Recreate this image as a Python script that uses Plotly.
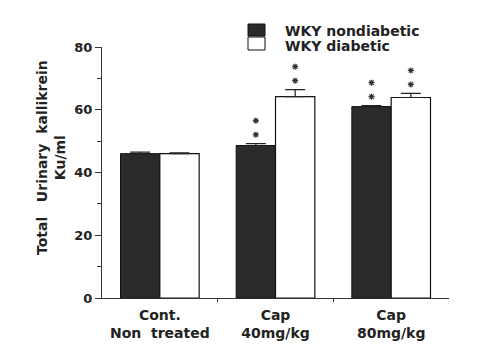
import plotly.graph_objects as go

categories = ["Cont.<br>Non  treated", "Cap<br>40mg/kg", "Cap<br>80mg/kg"]
series_names = ["WKY nondiabetic", "WKY diabetic"]
nondiabetic = [46.0, 48.6, 61.0]
nondiabetic_err = [0.5, 0.6, 0.3]
diabetic = [46.0, 64.2, 63.9]
diabetic_err = [0.3, 2.2, 1.3]
sig_nondiabetic = [0, 2, 2]  # number of significance asterisks
sig_diabetic = [0, 2, 2]
y_ticks = [0, 20, 40, 60, 80]
y_title_lines = ["Total   Urinary  kallikrein", "Ku/ml"]

xs = list(range(len(categories)))
dark = "#2b2b2b"
font_family = "DejaVu Sans, Arial, sans-serif"

OFF = 8  # default page body margin
W, H = 500 - OFF, 358 - OFF
L, R, T, B = 102 - OFF, 51, 47 - OFF, 60
PW, PH = W - L - R, H - T - B
Y_MAX = 80
unit_px = PH / Y_MAX


def px(xp):
    return (xp - OFF - L) / PW


def py(yp):
    return (H - B - (yp - OFF)) / PH


fig = go.Figure()
fig.add_trace(go.Bar(
    x=xs, y=nondiabetic, name=series_names[0],
    marker=dict(color=dark, line=dict(color="#111111", width=1)),
    error_y=dict(type="data", symmetric=False, array=nondiabetic_err,
                 arrayminus=[0] * 3, color="#222222", thickness=1.2, width=10),
    showlegend=False, hoverinfo="skip",
))
fig.add_trace(go.Bar(
    x=xs, y=diabetic, name=series_names[1],
    marker=dict(color="white", line=dict(color="#111111", width=1.2)),
    error_y=dict(type="data", symmetric=False, array=diabetic_err,
                 arrayminus=[0] * 3, color="#222222", thickness=1.2, width=10),
    showlegend=False, hoverinfo="skip",
))

bargap = 0.32
half = (1 - bargap) / 4
ax, ay = [], []
for i in xs:
    for off, vals, errs, sig in [(-half, nondiabetic, nondiabetic_err, sig_nondiabetic),
                                 (half, diabetic, diabetic_err, sig_diabetic)]:
        for k in range(sig[i]):
            ax.append(i + off)
            ay.append(vals[i] + errs[i] + (9 + 14 * k) / unit_px)
fig.add_trace(go.Scatter(
    x=ax, y=ay, mode="markers", showlegend=False, hoverinfo="skip",
    marker=dict(symbol="asterisk-open", size=5, color="#333", line=dict(color="#333", width=1.2)),
))

# manual legend
fig.add_shape(type="rect", xref="paper", yref="paper",
              x0=px(248), x1=px(265), y0=py(36), y1=py(24),
              fillcolor=dark, line=dict(color="#111", width=1))
fig.add_shape(type="rect", xref="paper", yref="paper",
              x0=px(248), x1=px(265), y0=py(50), y1=py(37),
              fillcolor="white", line=dict(color="#111", width=1))
for k, yy in enumerate([31, 46]):
    fig.add_annotation(xref="paper", yref="paper", x=px(283), y=py(yy),
                       text="<b>" + series_names[k] + "</b>", showarrow=False,
                       xanchor="left", yanchor="middle",
                       font=dict(size=14, color="#222", family=font_family))

# y-axis title
fig.add_annotation(xref="paper", yref="paper", x=px(51), y=py(158),
                   text="<b>" + "<br>".join(t.replace(" ", "&nbsp;") for t in y_title_lines) + "</b>",
                   showarrow=False, textangle=-90, xanchor="center", yanchor="middle",
                   font=dict(size=14, color="#222", family=font_family))

fig.update_layout(
    width=W, height=H,
    margin=dict(l=L, r=R, t=T, b=B),
    paper_bgcolor="white", plot_bgcolor="white",
    barmode="group", bargap=bargap, bargroupgap=0,
    font=dict(family=font_family, color="#222"),
    xaxis=dict(
        range=[-0.5, 2.5], tickmode="array", tickvals=xs,
        ticktext=["<b>" + c.replace(" ", "&nbsp;") + "</b>" for c in categories],
        showline=True, linecolor="#333", linewidth=1.2, ticks="", showgrid=False, zeroline=False,
        tickfont=dict(size=14, family=font_family, color="#222"), ticklabelstandoff=4,
        minor=dict(tickmode="array", tickvals=[0.5, 1.5], ticks="outside", ticklen=3, tickcolor="#333"),
        automargin=False,
    ),
    yaxis=dict(
        range=[0, Y_MAX], tickmode="array", tickvals=y_ticks, ticktext=["<b>%d</b>" % t for t in y_ticks],
        showline=True, linecolor="#333", linewidth=1.2, ticks="outside", ticklen=6, tickcolor="#333",
        showgrid=False, zeroline=False,
        tickfont=dict(size=13, family=font_family, color="#222"),
        minor=dict(dtick=10, ticks="outside", ticklen=4, tickcolor="#333"),
        automargin=False,
    ),
)

fig.write_html("out.html")
